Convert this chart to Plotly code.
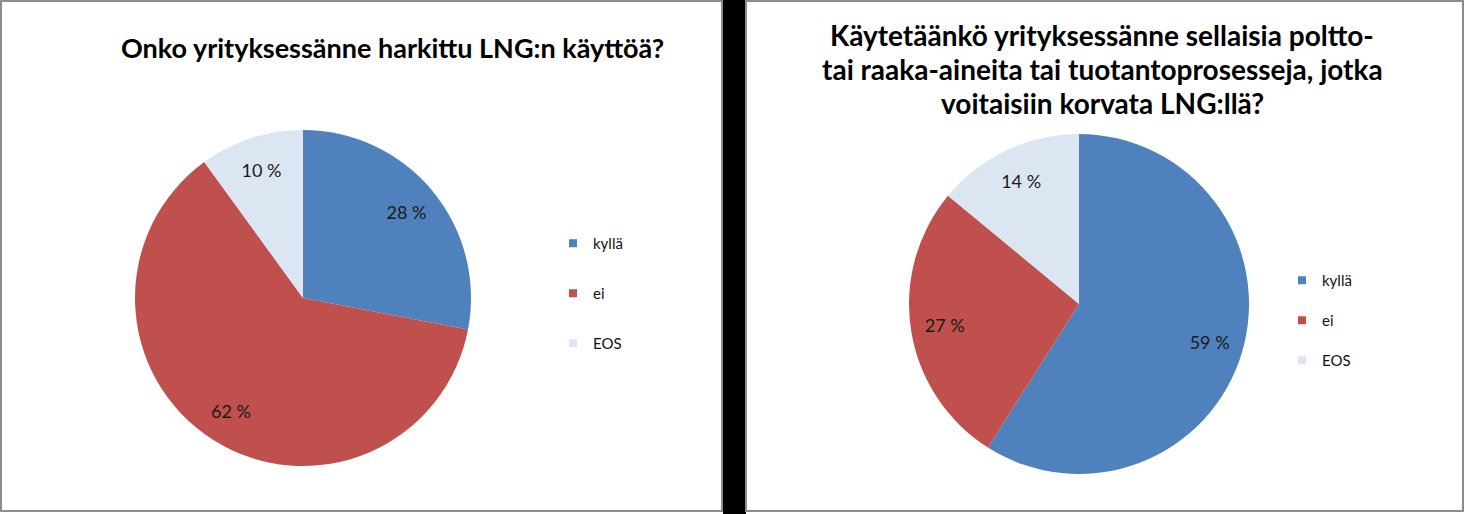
import plotly.graph_objects as go

W, H = 1465, 514

# vastausluokat ja osuudet (%)
luokat = ['kyllä', 'ei', 'EOS']
harkittu = [28, 62, 10]
korvattavissa = [59, 27, 14]
varit = ['#4F81BD', '#C0504D', '#DCE6F2']

otsikko1 = 'Onko yrityksessänne harkittu LNG:n käyttöä?'
otsikko2 = ['Käytetäänkö yrityksessänne sellaisia poltto-',
            'tai raaka-aineita tai tuotantoprosesseja, jotka',
            'voitaisiin korvata LNG:llä?']

FONT = 'Lato'


def px(x):
    return x / W


def py(y):
    # pikseli ylhäältä -> paper-koordinaatti
    return 1 - y / H


fig = go.Figure()

# piirakat: alla täytetty piirakka, päällä läpinäkyvä rengas joka kantaa prosenttitekstit
for arvot, cx, cy, r in [(harkittu, 303, 298, 168), (korvattavissa, 1079, 304, 170)]:
    dom = dict(x=[px(cx - r), px(cx + r)], y=[py(cy + r), py(cy - r)])
    fig.add_trace(go.Pie(
        labels=luokat, values=arvot, sort=False,
        direction='clockwise', rotation=0,
        marker=dict(colors=varit, line=dict(width=0)),
        textinfo='none', showlegend=False,
        hoverinfo='label+value', domain=dom,
    ))
    fig.add_trace(go.Pie(
        labels=luokat, values=arvot, sort=False,
        direction='clockwise', rotation=0, hole=0.6,
        marker=dict(colors=['rgba(0,0,0,0)'] * 3, line=dict(width=0)),
        texttemplate='%{value} %',
        textposition='inside',
        insidetextorientation='horizontal',
        textfont=dict(family=FONT, size=18, color='#1a1a1a'),
        showlegend=False, hoverinfo='skip', domain=dom,
    ))

# selitteet (omat ryhmät, jotta välit saa säädettyä)
for leg in ['legend', 'legend2']:
    for nimi, vari in zip(luokat, varit):
        fig.add_trace(go.Scatter(
            x=[None], y=[None], mode='markers',
            marker=dict(symbol='square', size=8, color=vari),
            name=nimi, legendgroup=leg + nimi, legend=leg,
            showlegend=True, hoverinfo='skip',
        ))

# taustalaatikot
shapes = [
    dict(type='rect', xref='paper', yref='paper', x0=px(723), x1=px(746), y0=0, y1=1,
         fillcolor='black', line=dict(width=0), layer='below'),
    dict(type='rect', xref='paper', yref='paper', x0=px(1), x1=px(722), y0=py(511), y1=py(1),
         fillcolor='white', line=dict(color='#8c8c8c', width=2), layer='below'),
    dict(type='rect', xref='paper', yref='paper', x0=px(746), x1=px(1463), y0=py(511), y1=py(1),
         fillcolor='white', line=dict(color='#8c8c8c', width=2), layer='below'),
]

annotations = [
    dict(text='<b>' + otsikko1 + '</b>', x=px(392), y=py(47), xref='paper', yref='paper',
         xanchor='center', yanchor='middle', showarrow=False,
         font=dict(size=27, family=FONT, color='black')),
]
for i, rivi in enumerate(otsikko2):
    annotations.append(dict(
        text='<b>' + rivi + '</b>', x=px(1102), y=py(35 + 34 * i), xref='paper', yref='paper',
        xanchor='center', yanchor='middle', showarrow=False,
        font=dict(size=28, family=FONT, color='black')))

fig.update_layout(
    width=W, height=H,
    margin=dict(l=0, r=0, t=0, b=0),
    paper_bgcolor='white',
    plot_bgcolor='rgba(0,0,0,0)',
    xaxis=dict(visible=False),
    yaxis=dict(visible=False),
    shapes=shapes,
    font=dict(family=FONT, color='#1a1a1a'),
    legend=dict(x=px(553), y=py(227), xanchor='left', yanchor='top',
                font=dict(size=15, color='#111111'), tracegroupgap=27.5, bgcolor='rgba(0,0,0,0)'),
    legend2=dict(x=px(1282), y=py(264), xanchor='left', yanchor='top',
                 font=dict(size=15, color='#111111'), tracegroupgap=17.5, bgcolor='rgba(0,0,0,0)'),
    annotations=annotations,
)

# selaimen oletusmarginaali pois, jotta kuva osuu ikkunaan pikselilleen
fig.write_html('out.html', config={'displayModeBar': False},
               post_script="document.body.style.margin='0';")
